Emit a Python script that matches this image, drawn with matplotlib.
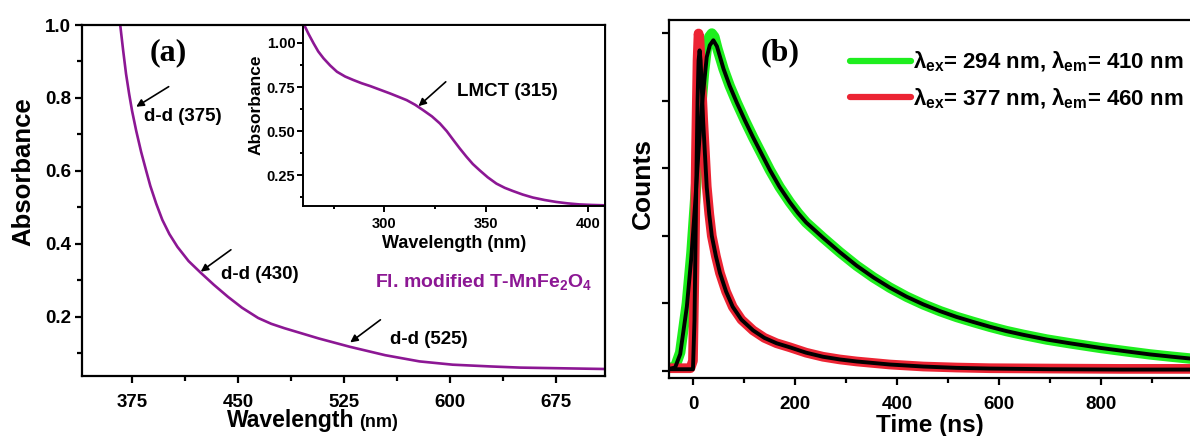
import matplotlib
matplotlib.use("Agg")
import matplotlib.pyplot as plt
from matplotlib.ticker import MultipleLocator, FormatStrFormatter

plt.rcParams["font.family"] = ["Liberation Sans", "DejaVu Sans"]
plt.rcParams["font.weight"] = "bold"
plt.rcParams["mathtext.fontset"] = "custom"
plt.rcParams["mathtext.rm"] = "Liberation Sans:bold"
plt.rcParams["mathtext.it"] = "Liberation Sans:bold"
plt.rcParams["mathtext.bf"] = "Liberation Sans:bold"

# ---- UV-Vis absorbance (panel a, main) ----
wavelength = [366.4, 368.6, 370.7, 372.9, 375.0, 377.9, 381.4, 385.0, 387.9, 392.1,
              396.4, 401.4, 407.1, 415.0, 423.6, 432.9, 442.9, 452.9, 464.3, 473.6,
              482.9, 495.0, 507.1, 529.3, 554.3, 578.6, 602.1, 630.0, 650.0, 712.9]
absorbance = [1.006, 0.932, 0.866, 0.811, 0.764, 0.710, 0.652, 0.600, 0.559, 0.510,
              0.466, 0.427, 0.392, 0.353, 0.321, 0.288, 0.255, 0.225, 0.197, 0.181,
              0.169, 0.155, 0.141, 0.118, 0.095, 0.078, 0.069, 0.064, 0.061, 0.057]

# ---- UV absorbance, short-wavelength range (inset) ----
inset_wavelength = [260.6, 262.6, 265.2, 267.5, 270.1, 273.4, 276.7, 280.7, 284.8,
                    288.8, 293.0, 297.9, 302.8, 306.7, 311.0, 315.1, 319.1, 323.4,
                    327.3, 330.7, 333.8, 337.1, 340.4, 343.5, 346.9, 350.8, 355.1,
                    359.2, 363.2, 368.0, 373.0, 378.8, 384.5, 390.1, 395.9, 401.8,
                    408.2]
inset_absorbance = [1.102, 1.054, 0.998, 0.952, 0.913, 0.872, 0.837, 0.810, 0.790,
                    0.772, 0.756, 0.735, 0.714, 0.696, 0.676, 0.650, 0.619, 0.584,
                    0.544, 0.500, 0.452, 0.402, 0.355, 0.314, 0.278, 0.239, 0.203,
                    0.179, 0.161, 0.141, 0.124, 0.110, 0.099, 0.091, 0.085, 0.082,
                    0.080]

# ---- Fluorescence decay (panel b) ----
t_green = [-50, -35, -25, -12, -3, 4, 10, 17, 22, 27, 32, 37, 42, 48, 60, 72, 86,
           102, 118, 135, 151, 170, 190, 206, 222, 255, 288, 321, 354, 386, 419, 452,
           485, 517, 550, 582, 615, 648, 694, 739, 800, 850, 896, 940, 980]
counts_green = [0.008, 0.012, 0.055, 0.20, 0.35, 0.50, 0.64, 0.80, 0.89, 0.955,
                0.99, 1.00, 0.99, 0.955, 0.895, 0.845, 0.795, 0.742, 0.692, 0.642,
                0.595, 0.545, 0.500, 0.468, 0.440, 0.395, 0.352, 0.312, 0.277,
                0.247, 0.220, 0.197, 0.177, 0.160, 0.145, 0.131, 0.118, 0.107,
                0.093, 0.082, 0.068, 0.058, 0.049, 0.042, 0.036]
t_green_fit = [-50, -35, -25, -12, -3, 4, 10, 17, 27, 33, 40, 47, 60, 72, 86, 102,
               118, 135, 151, 170, 190, 206, 222, 255, 288, 321, 354, 386, 419, 452,
               485, 517, 550, 582, 615, 648, 694, 739, 800, 850, 896, 940, 980]
fit_green = [0.005, 0.010, 0.050, 0.19, 0.34, 0.49, 0.63, 0.78, 0.93, 0.965, 0.98,
             0.962, 0.895, 0.845, 0.795, 0.742, 0.692, 0.642, 0.595, 0.545, 0.500,
             0.468, 0.440, 0.395, 0.352, 0.312, 0.277, 0.247, 0.220, 0.197, 0.177,
             0.160, 0.145, 0.131, 0.118, 0.107, 0.093, 0.082, 0.068, 0.058, 0.049,
             0.042, 0.036]

t_red = [-50, -5, 0, 3, 6, 9, 11, 13, 16, 20, 27, 32, 37, 45, 53, 65, 78, 95, 118,
         140, 164, 190, 222, 255, 288, 321, 386, 452, 517, 582, 700, 840, 980]
counts_red = [0.008, 0.008, 0.03, 0.30, 0.65, 0.92, 1.00, 0.98, 0.87, 0.745, 0.547,
              0.465, 0.400, 0.340, 0.290, 0.235, 0.190, 0.152, 0.120, 0.098, 0.082,
              0.070, 0.054, 0.042, 0.034, 0.028, 0.019, 0.013, 0.010, 0.008, 0.007,
              0.006, 0.006]
t_red_fit = [-50, 0, 3, 6, 9, 11, 13, 15, 17, 20, 27, 32, 37, 45, 53, 65, 78, 95,
             118, 140, 164, 190, 222, 255, 288, 321, 386, 452, 517, 582, 700, 840,
             980]
fit_red = [0.005, 0.005, 0.15, 0.50, 0.80, 0.92, 0.95, 0.92, 0.85, 0.74, 0.545,
           0.463, 0.400, 0.340, 0.290, 0.235, 0.190, 0.152, 0.120, 0.098, 0.082,
           0.070, 0.054, 0.042, 0.034, 0.028, 0.019, 0.013, 0.009, 0.007, 0.005,
           0.004, 0.004]

label_green = r"$\lambda_{ex}$= 294 nm, $\lambda_{em}$= 410 nm"
label_red = r"$\lambda_{ex}$= 377 nm, $\lambda_{em}$= 460 nm"

PURPLE = "#8C1794"
GREEN = "#1EEE1E"
RED = "#EC2433"

W, H = 1190, 436
fig = plt.figure(figsize=(W / 100, H / 100), dpi=100)


def px_axes(x0, y0, x1, y1):
    """Axes from pixel box (left, top, right, bottom)."""
    return fig.add_axes([x0 / W, 1 - y1 / H, (x1 - x0) / W, (y1 - y0) / H])


def style(ax, lw=1.6, major=5, minor=3.5, size=13.5, xpad=8, ypad=3):
    for s in ax.spines.values():
        s.set_linewidth(lw)
    ax.tick_params(which="major", direction="out", length=major, width=lw,
                   labelsize=size)
    ax.tick_params(which="minor", direction="out", length=minor, width=lw)
    ax.tick_params(axis="x", which="major", pad=xpad)
    ax.tick_params(axis="y", which="major", pad=ypad)


# ---------------- panel (a) ----------------
ax1 = px_axes(82, 25, 605, 376)
ax1.plot(wavelength, absorbance, color=PURPLE, lw=1.9)
ax1.set_xlim(339.5, 710)
ax1.set_ylim(0.038, 1.0)
ax1.xaxis.set_major_locator(MultipleLocator(75))
ax1.xaxis.set_minor_locator(MultipleLocator(37.5))
ax1.yaxis.set_major_locator(MultipleLocator(0.2))
ax1.yaxis.set_minor_locator(MultipleLocator(0.1))
ax1.yaxis.set_major_formatter(FormatStrFormatter("%.1f"))
style(ax1)

fig.text(23 / W, 1 - 172 / H, "Absorbance", rotation=90, ha="center", va="center",
         fontsize=18.5, fontweight="bold")
fig.text(227 / W, 1 - 427 / H, "Wavelength", ha="left", va="baseline",
         fontsize=16.5, fontweight="bold")
fig.text(359 / W, 1 - 427 / H, "(nm)", ha="left", va="baseline",
         fontsize=13, fontweight="bold")

ax1.text(0.164, 0.92, "(a)", transform=ax1.transAxes, ha="center", va="center",
         fontsize=23, fontweight="bold", family="Liberation Serif")

arrow = dict(arrowstyle="-|>", color="black", lw=1.2, mutation_scale=11,
             shrinkA=0, shrinkB=0)
ax1.annotate("", xy=(377.9, 0.776), xytext=(400.9, 0.831), arrowprops=arrow)
ax1.text(383.1, 0.749, "d-d (375)", ha="left", va="center", fontsize=13.5,
         fontweight="bold")
ax1.annotate("", xy=(423.6, 0.324), xytext=(445, 0.384), arrowprops=arrow)
ax1.text(437.9, 0.315, "d-d (430)", ha="left", va="center", fontsize=13.5,
         fontweight="bold")
ax1.annotate("", xy=(529.5, 0.130), xytext=(550.9, 0.192), arrowprops=arrow)
ax1.text(557.4, 0.137, "d-d (525)", ha="left", va="center", fontsize=13.5,
         fontweight="bold")
ax1.text(547.4, 0.297, r"Fl. modified T-MnFe$_2$O$_4$", ha="left", va="center",
         fontsize=14, fontweight="bold", color=PURPLE)

# ---------------- inset ----------------
ax2 = px_axes(303, 25, 605, 206)
ax2.plot(inset_wavelength, inset_absorbance, color=PURPLE, lw=1.9)
ax2.set_xlim(260, 408.5)
ax2.set_ylim(0.076, 1.102)
ax2.xaxis.set_major_locator(MultipleLocator(50))
ax2.xaxis.set_minor_locator(MultipleLocator(25))
ax2.yaxis.set_major_locator(MultipleLocator(0.25))
ax2.yaxis.set_minor_locator(MultipleLocator(0.125))
ax2.yaxis.set_major_formatter(FormatStrFormatter("%.2f"))
style(ax2, lw=1.4, major=4, minor=2.5, size=10.5, xpad=4, ypad=1.5)
ax2.set_xlabel("Wavelength (nm)", fontsize=13, fontweight="bold", labelpad=3)
ax2.set_ylabel("Absorbance", fontsize=12.5, fontweight="bold")
ax2.yaxis.set_label_coords(-0.132, 0.56)
ax2.annotate("", xy=(316.8, 0.642), xytext=(330.2, 0.78), arrowprops=arrow)
ax2.text(335.6, 0.723, "LMCT (315)", ha="left", va="center", fontsize=13.5,
         fontweight="bold")

# ---------------- panel (b) ----------------
ax3 = px_axes(669, 20, 1190, 378)
ax3.plot(t_green, counts_green, color=GREEN, lw=7.5, solid_capstyle="round",
         solid_joinstyle="round", label=label_green)
ax3.plot(t_red, counts_red, color=RED, lw=7.0, solid_capstyle="round",
         solid_joinstyle="round", label=label_red)
ax3.plot(t_green_fit, fit_green, color="black", lw=2.8, solid_joinstyle="round")
ax3.plot(t_red_fit, fit_red, color="black", lw=2.8, solid_joinstyle="round")
ax3.set_xlim(-47, 975)
ax3.set_ylim(-0.021, 1.04)
ax3.xaxis.set_major_locator(MultipleLocator(200))
ax3.xaxis.set_minor_locator(MultipleLocator(100))
ax3.yaxis.set_major_locator(MultipleLocator(0.2))
ax3.spines["right"].set_visible(False)
style(ax3)
ax3.tick_params(axis="y", labelleft=False)
ax3.set_xlabel("Time (ns)", fontsize=17.5, fontweight="bold", labelpad=1)
fig.text(643 / W, 1 - 183 / H, "Counts", rotation=90, ha="center", va="center",
         fontsize=19, fontweight="bold")
ax3.text(0.213, 0.908, "(b)", transform=ax3.transAxes, ha="center", va="center",
         fontsize=23, fontweight="bold", family="Liberation Serif")

leg = ax3.legend(loc="upper left", bbox_to_anchor=(850 / W, 1 - 50 / H),
                 bbox_transform=fig.transFigure, frameon=False, borderpad=0,
                 borderaxespad=0, handlelength=2.75, handletextpad=0.1,
                 labelspacing=0.55, prop={"size": 16, "weight": "bold"})
for line in leg.get_lines():
    line.set_linewidth(4.5)
    line.set_solid_capstyle("round")

# bold tick labels on every axis
fig.canvas.draw()
for ax in (ax1, ax2, ax3):
    for lab in ax.get_xticklabels() + ax.get_yticklabels():
        lab.set_fontweight("bold")

fig.savefig("out.png", dpi=100)
